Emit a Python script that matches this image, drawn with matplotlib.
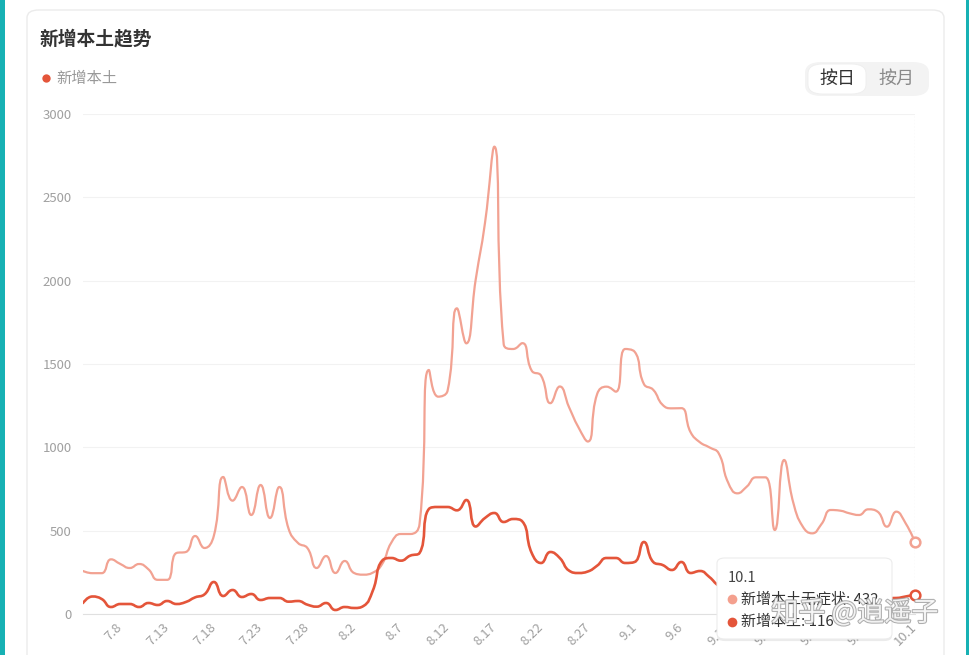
import numpy as np
import pandas as pd
import matplotlib
matplotlib.use("Agg")
import matplotlib.pyplot as plt
from matplotlib.path import Path
from matplotlib.patches import PathPatch, FancyBboxPatch, Rectangle
from matplotlib.lines import Line2D
import matplotlib.patheffects as pe

plt.rcParams['font.family'] = ['Noto Sans CJK SC', 'DejaVu Sans']

# ---------------- data ----------------
dates = [f"{d.month}.{d.day}" for d in pd.date_range("2022-07-04", "2022-10-01")]

asymptomatic = [258, 245, 245, 328, 300, 276, 300, 268, 205, 205,
                366, 372, 468, 396, 470, 822, 680, 762, 594, 774,
                576, 762, 510, 426, 396, 276, 348, 246, 318, 246,
                236, 248, 300, 430, 480, 480, 540, 1464, 1304, 1340,
                1834, 1624, 2004, 2346, 2804, 1620, 1590, 1625, 1460, 1430,
                1265, 1365, 1240, 1120, 1035, 1320, 1364, 1334, 1590, 1574,
                1380, 1345, 1255, 1234, 1235, 1090, 1030, 1000, 964, 790,
                724, 764, 820, 820, 504, 924, 664, 524, 484, 540,
                624, 620, 604, 594, 628, 614, 524, 614, 544, 432]

local = [66, 105, 90, 42, 60, 60, 42, 66, 54, 78,
         60, 72, 100, 118, 192, 108, 144, 102, 120, 84,
         96, 96, 74, 78, 56, 44, 66, 24, 42, 36,
         48, 140, 320, 336, 320, 350, 366, 630, 642, 642,
         622, 684, 525, 576, 606, 552, 570, 555, 366, 306,
         372, 336, 260, 246, 255, 290, 336, 336, 306, 312,
         432, 312, 294, 264, 312, 246, 258, 222, 170, 150,
         140, 130, 120, 110, 110, 100, 100, 95, 90, 85,
         90, 80, 85, 90, 95, 90, 95, 96, 105, 116]

series_names = ["新增本土无症状", "新增本土"]
y_ticks = [0, 500, 1000, 1500, 2000, 2500, 3000]

LIGHT = "#F2A292"
DARK = "#E4553A"

W, H = 970, 655
fig = plt.figure(figsize=(W / 100, H / 100), dpi=100)
fig.patch.set_facecolor("white")


def fx(px):
    return px / W


def fy(py):
    return 1 - py / H


def dot(px, py, color, size, z):
    fig.add_artist(Line2D([fx(px)], [fy(py)], transform=fig.transFigure, marker="o",
                          markersize=size, markerfacecolor=color, markeredgecolor="none",
                          linestyle="none", zorder=z))


# background strips & card
fig.add_artist(Rectangle((0, 0), fx(5), 1, transform=fig.transFigure,
                         facecolor="#17B1B4", edgecolor="none", zorder=0))
fig.add_artist(Rectangle((fx(966), 0), fx(4), 1, transform=fig.transFigure,
                         facecolor="#17B1B4", edgecolor="none", zorder=0))
fig.add_artist(FancyBboxPatch((fx(27), fy(690)), fx(917), fy(10) - fy(690),
                              boxstyle="round,pad=0,rounding_size=0.012",
                              transform=fig.transFigure, facecolor="white",
                              edgecolor="#EBEBEB", linewidth=1.0, zorder=0.5))

# title / legend / toggle
fig.text(fx(40), fy(39), "新增本土趋势", fontsize=13.5, fontweight="bold",
         color="#333333", ha="left", va="center", zorder=3)
dot(46, 78, DARK, 6, 3)
fig.text(fx(56), fy(78), series_names[1], fontsize=11, color="#999999",
         ha="left", va="center", zorder=3)

fig.add_artist(FancyBboxPatch((fx(805), fy(96)), fx(124), fy(62) - fy(96),
                              boxstyle="round,pad=0,rounding_size=0.017",
                              transform=fig.transFigure, facecolor="#F3F3F3",
                              edgecolor="none", zorder=1))
fig.add_artist(FancyBboxPatch((fx(808), fy(94)), fx(58), fy(64) - fy(94),
                              boxstyle="round,pad=0,rounding_size=0.015",
                              transform=fig.transFigure, facecolor="white",
                              edgecolor="#EEEEEE", linewidth=0.6, zorder=1.1))
fig.text(fx(837), fy(79), "按日", fontsize=13, color="#333333", ha="center", va="center", zorder=3)
fig.text(fx(896), fy(79), "按月", fontsize=13, color="#8A8A8A", ha="center", va="center", zorder=3)

# ---------------- axes ----------------
ax = fig.add_axes([fx(83), fy(614), fx(915) - fx(83), fy(114) - fy(614)])
ax.set_zorder(2)
ax.set_facecolor("none")
n = len(dates)
ax.set_xlim(0, n - 1)
ax.set_ylim(0, 3000)
for s in ["top", "right", "left"]:
    ax.spines[s].set_visible(False)
ax.spines["bottom"].set_color("#E0E0E0")
ax.spines["bottom"].set_linewidth(0.8)
ax.set_yticks(y_ticks)
ax.set_yticklabels([str(v) for v in y_ticks])
ax.tick_params(axis="y", length=0, pad=8, labelsize=9.5, labelcolor="#A0A0A0")
ax.yaxis.grid(True, color="#F2F2F2", linewidth=0.8)
ax.set_axisbelow(True)

xt = [i for i in range(n) if i % 5 == 4]
ax.set_xticks(xt)
ax.set_xticklabels([dates[i] for i in xt], rotation=45, ha="right", va="center",
                   rotation_mode="anchor")
ax.tick_params(axis="x", length=0, pad=8, labelsize=9.5, labelcolor="#A0A0A0")

# axis pointer line
ax.axvline(n - 1, color="#BBBBBB", linewidth=0.8, linestyle=(0, (1.5, 1.5)), zorder=1)


def echarts_smooth_path(xs, ys, smooth=0.5):
    pts = ax.transData.transform(np.column_stack([xs, ys]).astype(float))
    m = len(pts)
    verts = [tuple(pts[0])]
    codes = [Path.MOVETO]
    cp0 = tuple(pts[0])
    px, py = pts[0]
    for k in range(1, m):
        x, y = pts[k]
        if k == m - 1:
            cp1 = (x, y)
            ncp0 = (x, y)
        else:
            nx, ny = pts[k + 1]
            vx, vy = nx - px, ny - py
            l0 = np.hypot(x - px, y - py)
            l1 = np.hypot(nx - x, ny - y)
            r = l1 / (l0 + l1)
            ncx = x + vx * smooth * r
            ncy = y + vy * smooth * r
            ncx = max(min(ncx, max(nx, x)), min(nx, x))
            ncy = max(min(ncy, max(ny, y)), min(ny, y))
            vx, vy = ncx - x, ncy - y
            c1x = x - vx * l0 / l1
            c1y = y - vy * l0 / l1
            c1x = max(min(c1x, max(px, x)), min(px, x))
            c1y = max(min(c1y, max(py, y)), min(py, y))
            vx, vy = x - c1x, y - c1y
            ncx = x + vx * l1 / l0
            ncy = y + vy * l1 / l0
            cp1 = (c1x, c1y)
            ncp0 = (ncx, ncy)
        verts += [cp0, cp1, (x, y)]
        codes += [Path.CURVE4] * 3
        cp0 = ncp0
        px, py = x, y
    verts = ax.transData.inverted().transform(np.array(verts))
    return Path(verts, codes)


xs = np.arange(n)
for vals, col, lw, z in [(asymptomatic, LIGHT, 1.6, 3), (local, DARK, 1.9, 4)]:
    p = echarts_smooth_path(xs, vals)
    ax.add_patch(PathPatch(p, facecolor="none", edgecolor=col, linewidth=lw,
                           capstyle="round", joinstyle="round", zorder=z))
    ax.plot([xs[-1]], [vals[-1]], marker="o", markersize=7, markerfacecolor="white",
            markeredgecolor=col, markeredgewidth=1.8, zorder=z + 2, clip_on=False)

# ---------------- tooltip ----------------
tip = FancyBboxPatch((fx(717), fy(639)), fx(175), fy(558) - fy(639),
                     boxstyle="round,pad=0,rounding_size=0.008",
                     transform=fig.transFigure, facecolor="white",
                     edgecolor="#ECECEC", linewidth=0.8, zorder=10,
                     path_effects=[pe.SimplePatchShadow(offset=(0, -1.5), shadow_rgbFace="#000000",
                                                        alpha=0.08), pe.Normal()])
fig.add_artist(tip)
fig.text(fx(728), fy(578), dates[-1], fontsize=10.5, color="#444444",
         ha="left", va="center", zorder=11)
dot(732, 599, "#F4A08E", 7, 11)
fig.text(fx(741), fy(599), f"{series_names[0]}: {asymptomatic[-1]}", fontsize=10.8,
         color="#333333", ha="left", va="center", zorder=11)
dot(732, 622, DARK, 7, 11)
fig.text(fx(741), fy(622), f"{series_names[1]}: {local[-1]}", fontsize=10.8,
         color="#333333", ha="left", va="center", zorder=11)

# watermark
fig.text(fx(855), fy(613), "知乎 @逍遥子", fontsize=19.5, color="white", alpha=0.85,
         ha="center", va="center", zorder=12,
         path_effects=[pe.withStroke(linewidth=1.5, foreground="#A0A0A0")])

fig.savefig("out.png", dpi=100, facecolor=fig.get_facecolor())
